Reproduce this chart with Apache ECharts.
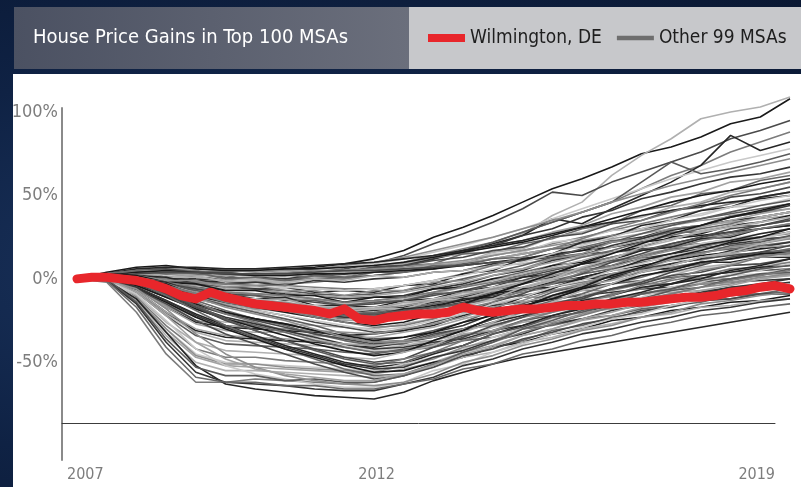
<!DOCTYPE html>
<html><head><meta charset="utf-8">
<script src="https://cdn.jsdelivr.net/npm/echarts@6/dist/echarts.min.js"></script>
<style>
html,body{margin:0;padding:0;width:801px;height:487px;overflow:hidden;}
body{background:radial-gradient(ellipse at 30% 55%,#1b3560 0%,#0f2244 55%,#0a1833 100%);}
#hdrL{position:absolute;left:14px;top:7px;width:395px;height:62px;background:linear-gradient(90deg,#4b5162,#6b6f7c);}
#hdrR{position:absolute;left:409px;top:7px;width:392px;height:62px;background:#c7c8cb;}
#panel{position:absolute;left:13px;top:74px;width:788px;height:413px;background:#fff;}
#chart{position:absolute;left:0;top:0;width:801px;height:487px;}
</style></head><body>
<div id="hdrL"></div><div id="hdrR"></div><div id="panel"></div><div id="chart"></div>
<script>
// ---------- data ----------
const halfYears = [2007,2007.5,2008,2008.5,2009,2009.5,2010,2010.5,2011,2011.5,2012,2012.5,2013,2013.5,2014,2014.5,2015,2015.5,2016,2016.5,2017,2017.5,2018,2018.5,2019];
const quarters = [2007,2007.25,2007.5,2007.75,2008,2008.25,2008.5,2008.75,2009,2009.25,2009.5,2009.75,2010,2010.25,2010.5,2010.75,2011,2011.25,2011.5,2011.75,2012,2012.25,2012.5,2012.75,2013,2013.25,2013.5,2013.75,2014,2014.25,2014.5,2014.75,2015,2015.25,2015.5,2015.75,2016,2016.25,2016.5,2016.75,2017,2017.25,2017.5,2017.75,2018,2018.25,2018.5,2018.75,2019];
const yTicks = [-50, 0, 50, 100];
const xTickYears = [2007, 2012, 2019];

const wilmington = [0,1,1,0,-1,-3,-6,-10,-12,-8,-11,-13,-15,-16,-17,-18,-19,-21,-18,-24,-25,-23,-22,-21,-21,-20,-17,-19,-20,-19,-18,-18,-17,-16,-16,-15,-15,-14,-14,-13,-12,-11,-11,-10,-8,-7,-5,-4,-6];

// other MSAs, half-yearly (2007.0 ... 2019.0)
const s1 = [0,3,5,5,4,4,5,6,7,9,12,17,25,31,38,46,54,60,67,75,79,85,93,97,108];
const s2 = [0,2,1,-2,-4,-3,-2,-2,0,3,8,10,14,17,19,27,38,46,62,74,84,96,100,103,109];
const s3 = [0,2,4,3,1,0,1,2,4,6,9,14,21,27,34,42,52,50,58,64,70,76,84,89,95];
const s4 = [0,3,5,6,5,3,2,3,4,5,7,10,14,18,22,28,34,40,46,54,62,68,76,82,88];
const s5 = [0,2,3,1,-1,-2,-2,-1,0,2,5,8,12,16,21,26,36,33,42,50,58,68,86,77,82];
const s6 = [0,4,6,7,6,5,5,5,6,7,9,12,16,20,25,30,36,42,48,54,60,65,70,74,78];
const s7 = [0,1,0,-2,-3,-3,-2,-1,1,3,6,9,13,17,22,28,34,40,46,58,70,63,66,70,75];
const s8 = [0,3,5,6,6,5,4,5,6,8,10,13,17,21,25,30,35,40,46,51,56,60,64,68,72];
const s9 = [0,2,3,2,0,-1,1,0,2,4,7,9,12,17,20,26,30,37,41,48,52,57,61,63,67];
const s10 = [0,3,4,5,3,2,3,3,5,5,8,9,13,15,20,23,28,32,39,43,49,52,58,60,64];
const s11 = [0,2,4,5,2,2,-1,2,1,4,4,8,9,15,16,21,24,30,33,41,44,51,53,59,62];
const s12 = [0,4,7,8,6,5,5,6,6,7,8,10,13,16,19,22,26,31,36,41,46,50,53,57,60];
const s13 = [0,2,3,1,2,-2,-1,-2,1,0,4,4,9,10,16,18,25,28,34,37,43,46,52,54,58];
const s14 = [0,3,5,6,4,4,2,3,5,4,7,8,11,13,17,19,25,27,33,35,41,43,49,51,55];
const s15 = [0,1,2,0,-2,-3,-4,-3,-2,0,2,4,7,10,14,17,21,25,29,33,37,41,45,49,52];
const s16 = [0,3,6,7,7,6,6,7,8,9,10,12,14,17,20,23,27,31,34,38,41,44,46,48,50];
const s17 = [0,2,4,2,3,0,2,1,4,2,5,5,9,10,15,16,22,24,29,30,36,38,43,44,48];
const s18 = [0,2,4,4,3,1,0,-1,0,1,2,4,6,9,12,15,18,22,26,30,33,36,39,42,45];
const s19 = [0,3,5,5,4,3,3,4,5,5,6,7,9,11,14,17,20,23,26,29,32,35,37,40,42];
const s20 = [0,1,2,1,-1,-3,-2,-4,-1,-2,0,1,4,5,9,11,15,17,22,25,30,32,35,37,40];
const s21 = [0,2,3,3,2,2,2,3,3,4,5,6,8,10,12,15,18,21,24,27,30,32,34,36,38];
const s22 = [0,3,5,3,4,0,1,-1,2,1,4,4,8,8,12,13,18,19,23,24,28,28,32,32,35];
const s23 = [0,2,4,5,4,3,2,2,3,3,4,5,6,8,10,12,14,17,19,22,24,26,28,30,32];
const s24 = [0,1,3,1,1,-1,0,-2,0,-1,2,1,4,5,8,9,12,13,16,17,20,21,24,25,28];
const s25 = [0,2,3,4,4,3,3,3,4,5,5,6,7,8,10,11,13,15,16,18,19,21,22,24,25];

const m1 = [0,2,1,-1,-2,-3,-4,-4,-5,-6,-6,-4,-1,3,8,13,18,24,30,35,40,45,50,54,58];
const m2 = [0,3,2,1,-3,-4,-6,-5,-8,-7,-8,-4,-3,3,5,12,15,22,25,32,35,41,43,49,52];
const m3 = [0,1,0,-2,-3,-4,-5,-5,-6,-7,-6,-4,-1,2,6,10,15,20,25,30,35,39,43,47,50];
const m4 = [0,2,1,-1,-3,-5,-6,-7,-9,-10,-9,-7,-4,0,4,8,13,18,22,27,32,36,40,44,47];
const m5 = [0,2,2,-1,-1,-5,-4,-7,-7,-10,-7,-7,-2,-1,4,6,12,15,22,24,30,32,38,40,45];
const m6 = [0,1,-1,-3,-5,-7,-6,-9,-10,-12,-11,-10,-6,-3,2,5,11,14,20,24,29,32,37,40,44];
const m7 = [0,2,1,-2,-4,-6,-7,-8,-10,-11,-10,-8,-5,-2,2,6,10,14,19,23,27,31,35,39,42];
const m8 = [0,2,0,-3,-6,-8,-9,-10,-12,-14,-13,-11,-8,-4,0,4,8,13,17,22,26,30,33,37,40];
const m9 = [0,3,2,-2,-3,-7,-7,-10,-10,-14,-11,-11,-6,-5,0,2,8,10,16,19,25,27,32,34,38];
const m10 = [0,1,-1,-4,-7,-9,-10,-11,-13,-15,-14,-12,-9,-5,-1,3,7,11,16,20,24,28,31,34,37];
const m11 = [0,2,1,-3,-6,-9,-10,-12,-14,-16,-15,-13,-10,-7,-3,1,5,9,13,17,21,25,28,32,35];
const m12 = [0,2,1,-2,-5,-8,-9,-10,-12,-14,-13,-11,-8,-5,-2,2,6,9,13,17,20,24,27,30,33];
const m13 = [0,3,0,-2,-8,-9,-12,-11,-16,-16,-17,-13,-12,-7,-5,1,3,9,11,17,19,24,25,30,32];
const m14 = [0,1,-1,-4,-8,-11,-12,-14,-16,-18,-17,-15,-12,-9,-5,-1,3,7,11,15,18,21,24,27,30];
const m15 = [0,2,0,-3,-7,-10,-10,-13,-13,-16,-14,-13,-9,-8,-3,-1,4,6,11,13,18,19,23,25,28];
const m16 = [0,2,1,-4,-8,-11,-13,-14,-17,-19,-18,-16,-13,-10,-6,-2,2,6,10,13,17,20,22,25,27];
const m17 = [0,1,-1,-5,-9,-12,-13,-15,-18,-20,-19,-17,-14,-11,-7,-3,1,5,8,12,15,18,21,23,25];
const m18 = [0,2,-1,-3,-9,-10,-13,-12,-17,-17,-18,-14,-13,-8,-7,-2,0,5,7,12,13,18,19,23,24];
const m19 = [0,3,1,-4,-9,-12,-14,-16,-19,-21,-20,-18,-15,-12,-8,-5,-1,3,6,10,13,16,18,20,22];
const m20 = [0,2,0,-5,-10,-13,-15,-17,-20,-22,-21,-19,-16,-13,-9,-6,-2,1,5,8,11,14,16,18,20];
const m21 = [0,1,-1,-5,-9,-12,-13,-16,-17,-20,-18,-18,-13,-12,-7,-6,-1,0,5,6,11,11,15,15,18];
const m22 = [0,2,0,-5,-10,-14,-16,-18,-21,-23,-22,-20,-17,-14,-10,-7,-3,0,3,6,9,12,14,16,17];
const m23 = [0,2,0,-6,-11,-15,-17,-19,-22,-24,-23,-21,-18,-15,-11,-8,-5,-2,1,4,7,10,12,14,15];
const m24 = [0,3,0,-3,-10,-12,-16,-16,-21,-21,-22,-18,-17,-12,-11,-6,-5,0,1,6,6,10,10,13,13];
const m25 = [0,1,-1,-6,-12,-16,-18,-20,-23,-25,-24,-22,-19,-16,-13,-10,-7,-4,-1,2,4,6,8,9,10];
const m26 = [0,2,0,-5,-10,-13,-15,-17,-19,-21,-21,-19,-17,-15,-12,-10,-7,-5,-3,-1,1,2,4,5,6];
const m27 = [0,2,-1,-5,-12,-14,-18,-18,-23,-23,-25,-21,-21,-17,-16,-11,-11,-7,-7,-3,-3,1,0,3,3];
const m28 = [0,1,-1,-5,-10,-14,-16,-18,-21,-23,-23,-22,-20,-18,-16,-14,-12,-10,-8,-6,-5,-3,-2,-1,0];
const m29 = [0,2,0,-6,-11,-15,-17,-19,-23,-25,-25,-24,-22,-20,-18,-16,-14,-12,-11,-9,-8,-7,-6,-5,-4];
const m30 = [0,2,1,-4,-9,-13,-15,-17,-20,-22,-22,-21,-20,-19,-18,-17,-15,-14,-13,-12,-11,-10,-10,-9,-9];

const d1 = [0,1,-2,-6,-10,-14,-17,-20,-23,-26,-28,-26,-21,-15,-9,-3,3,9,15,21,27,32,37,41,45];
const d2 = [0,2,-5,-15,-23,-26,-25,-27,-28,-29,-30,-27,-24,-17,-12,-5,0,7,12,19,23,29,32,37,40];
const d3 = [0,1,-3,-7,-12,-16,-19,-22,-26,-29,-32,-31,-26,-21,-14,-9,-2,3,10,15,21,25,30,32,36];
const d4 = [0,2,1,-4,-9,-14,-17,-19,-23,-26,-29,-28,-24,-18,-14,-7,-3,4,8,14,18,23,26,30,33];
const d5 = [0,1,-6,-17,-26,-29,-30,-31,-32,-34,-33,-31,-28,-22,-18,-11,-6,1,5,11,15,20,23,27,30];
const d6 = [0,2,-2,-7,-12,-16,-19,-22,-25,-28,-31,-29,-25,-21,-15,-11,-5,-1,5,9,14,17,22,24,28];
const d7 = [0,1,0,-5,-11,-16,-20,-24,-28,-33,-36,-35,-31,-26,-19,-15,-8,-4,2,6,12,15,20,22,26];
const d8 = [0,2,-6,-16,-25,-28,-29,-30,-31,-32,-33,-30,-27,-23,-17,-13,-7,-3,3,7,12,15,19,21,24];
const d9 = [0,1,-3,-9,-15,-20,-24,-27,-31,-35,-38,-37,-32,-28,-21,-17,-10,-6,0,4,9,12,17,19,22];
const d10 = [0,2,-6,-17,-27,-31,-32,-32,-34,-35,-35,-32,-29,-24,-20,-14,-10,-4,-1,5,8,13,15,19,20];
const d11 = [0,1,-1,-6,-13,-19,-24,-28,-33,-37,-40,-39,-34,-30,-24,-19,-13,-9,-3,1,6,9,13,15,18];
const d12 = [0,2,-3,-9,-15,-20,-24,-27,-31,-34,-37,-35,-32,-26,-22,-16,-12,-6,-3,2,5,10,12,15,16];
const d13 = [0,1,-8,-21,-32,-37,-38,-39,-40,-41,-42,-40,-37,-31,-27,-20,-16,-10,-6,-1,2,7,9,13,14];
const d14 = [0,2,-3,-9,-16,-21,-25,-29,-33,-36,-39,-38,-33,-30,-24,-20,-15,-11,-6,-3,2,4,8,9,12];
const d15 = [0,1,-1,-7,-14,-21,-26,-31,-36,-41,-44,-43,-39,-34,-29,-23,-18,-14,-9,-6,-1,2,6,7,10];
const d16 = [0,2,-7,-20,-31,-35,-36,-37,-38,-40,-41,-38,-35,-31,-26,-22,-18,-13,-10,-5,-3,2,4,7,8];
const d17 = [0,1,-4,-11,-18,-24,-28,-32,-36,-40,-43,-42,-38,-35,-29,-26,-20,-17,-12,-9,-5,-2,2,3,6];
const d18 = [0,2,-8,-22,-34,-39,-40,-41,-42,-44,-45,-42,-40,-34,-31,-25,-22,-17,-14,-9,-6,-2,0,3,4];
const d19 = [0,1,0,-5,-11,-17,-21,-25,-30,-35,-38,-37,-35,-30,-28,-23,-20,-16,-13,-9,-7,-3,-2,1,2];
const d20 = [0,2,-3,-10,-17,-23,-27,-31,-35,-39,-42,-41,-38,-36,-31,-28,-23,-20,-16,-14,-10,-8,-5,-4,-2];
const d21 = [0,1,-7,-20,-30,-34,-35,-36,-37,-39,-40,-38,-37,-33,-31,-26,-24,-20,-18,-14,-12,-9,-8,-5,-5];
const d22 = [0,2,-4,-11,-18,-24,-28,-32,-37,-41,-44,-43,-41,-37,-35,-30,-28,-24,-22,-18,-16,-13,-12,-9,-9];

const v1 = [0,0,-4,-11,-18,-24,-29,-34,-39,-43,-46,-44,-37,-31,-23,-17,-10,-5,2,7,13,17,22,25,30];
const v2 = [0,1,-10,-26,-38,-43,-44,-45,-46,-47,-48,-44,-40,-32,-26,-19,-14,-7,-3,4,8,13,16,21,25];
const v3 = [0,0,-2,-9,-17,-25,-31,-37,-42,-47,-50,-48,-41,-35,-28,-23,-16,-12,-6,-2,4,8,13,16,20];
const v4 = [0,-1,-11,-28,-42,-47,-47,-49,-50,-51,-52,-48,-44,-37,-32,-25,-20,-14,-10,-4,0,5,8,13,16];
const v5 = [0,0,-5,-13,-21,-28,-34,-40,-45,-50,-53,-51,-45,-40,-33,-28,-22,-18,-12,-8,-3,0,5,8,12];
const v6 = [0,1,-12,-30,-45,-50,-51,-52,-53,-54,-55,-51,-47,-42,-35,-30,-24,-20,-14,-11,-5,-2,3,5,9];
const v7 = [0,0,-1,-8,-16,-24,-31,-37,-43,-48,-51,-50,-44,-40,-33,-29,-23,-20,-15,-12,-7,-5,0,2,6];
const v8 = [0,-1,-12,-30,-46,-51,-51,-53,-54,-55,-56,-52,-48,-41,-37,-30,-26,-21,-17,-12,-9,-5,-3,1,3];
const v9 = [0,0,-5,-13,-22,-29,-35,-41,-46,-51,-54,-53,-47,-43,-37,-33,-27,-24,-19,-16,-11,-9,-5,-3,0];
const v10 = [0,0,-13,-32,-47,-52,-53,-54,-55,-56,-57,-54,-50,-44,-40,-34,-30,-25,-22,-17,-14,-10,-8,-4,-3];
const v11 = [0,1,-2,-10,-19,-28,-35,-42,-48,-54,-58,-57,-51,-47,-41,-37,-31,-28,-23,-20,-16,-14,-10,-9,-6];
const v12 = [0,0,-6,-14,-23,-30,-36,-42,-47,-52,-56,-55,-50,-47,-41,-38,-33,-30,-25,-23,-19,-17,-14,-13,-10];
const v13 = [0,-1,-14,-34,-50,-55,-55,-56,-57,-58,-59,-57,-53,-47,-44,-38,-35,-30,-27,-23,-21,-17,-16,-13,-12];
const v14 = [0,0,-6,-15,-25,-33,-39,-45,-51,-56,-60,-58,-53,-46,-42,-36,-32,-27,-24,-19,-17,-13,-12,-9,-8];

const x1 = [0,-2,-20,-45,-62,-62,-60,-61,-62,-63,-62,-58,-51,-44,-38,-32,-27,-22,-17,-13,-9,-5,-1,2,5];
const x2 = [0,-1,-12,-32,-52,-63,-66,-68,-70,-71,-72,-68,-61,-56,-51,-47,-44,-41,-38,-35,-32,-29,-26,-23,-20];
const x3 = [0,-1,-9,-25,-42,-52,-57,-60,-63,-65,-65,-62,-55,-51,-44,-39,-33,-29,-24,-21,-16,-13,-9,-7,-4];
const x4 = [0,0,-14,-36,-53,-58,-58,-61,-60,-62,-62,-58,-52,-44,-38,-30,-25,-19,-15,-9,-6,-1,2,6,8];
const x5 = [0,-1,-6,-18,-33,-45,-53,-58,-61,-63,-64,-62,-57,-50,-46,-40,-36,-31,-28,-23,-20,-15,-13,-10,-8];
const x6 = [0,-1,-15,-38,-56,-62,-63,-64,-66,-67,-67,-63,-59,-52,-48,-42,-38,-33,-30,-26,-23,-19,-17,-14,-12];
const x7 = [0,0,-8,-22,-38,-48,-54,-57,-59,-61,-61,-57,-52,-45,-41,-34,-30,-24,-20,-15,-12,-7,-4,0,2];
const x8 = [0,-1,-17,-41,-59,-62,-62,-64,-64,-66,-66,-63,-60,-54,-51,-45,-42,-37,-34,-29,-26,-22,-20,-17,-15];

const otherMSAs = [s1,s2,s3,s4,s5,s6,s7,s8,s9,s10,s11,s12,s13,s14,s15,s16,s17,s18,s19,s20,s21,s22,s23,s24,s25,
  m1,m2,m3,m4,m5,m6,m7,m8,m9,m10,m11,m12,m13,m14,m15,m16,m17,m18,m19,m20,m21,m22,m23,m24,m25,m26,m27,m28,m29,m30,
  d1,d2,d3,d4,d5,d6,d7,d8,d9,d10,d11,d12,d13,d14,d15,d16,d17,d18,d19,d20,d21,d22,
  v1,v2,v3,v4,v5,v6,v7,v8,v9,v10,v11,v12,v13,v14,
  x1,x2,x3,x4,x5,x6,x7,x8];

// ---------- style ----------
const F = "'Liberation Sans Narrow','DejaVu Sans Condensed','Arial Narrow',sans-serif";
const RED = '#e8262b';
const shades = ['#1a1a1a','#b0b0b0','#4a4a4a','#7c7c7c','#262626','#c8c8c8','#5a5a5a','#8e8e8e','#363636','#a2a2a2','#686868'];
const pxPerYear = 713 / 12;
const frameMin = 2007 - 15 / pxPerYear;
const frameMax = 2019 - 15 / pxPerYear;
const nearestYear = v => xTickYears.reduce((a, b) => Math.abs(b - v) < Math.abs(a - v) ? b : a);

const series = otherMSAs.map((vals, i) => ({
  type: 'line', name: 'Other 99 MSAs', xAxisIndex: 0, yAxisIndex: 0,
  data: vals.map((v, j) => [halfYears[j], v]),
  symbol: 'none', showSymbol: false, silent: true, z: 2,
  lineStyle: { width: 1.6, color: shades[i % shades.length] },
  itemStyle: { color: shades[i % shades.length] }
}));
series.push({
  type: 'line', name: 'Wilmington, DE', xAxisIndex: 0, yAxisIndex: 0,
  data: wilmington.map((v, j) => [quarters[j], v]),
  symbol: 'none', showSymbol: false, silent: true, z: 10,
  lineStyle: { width: 9, color: RED, cap: 'round', join: 'round' },
  itemStyle: { color: RED }
});

const chart = echarts.init(document.getElementById('chart'), null, { renderer: 'canvas' });
chart.setOption({
  animation: false,
  backgroundColor: 'transparent',
  title: {
    text: 'House Price Gains in Top 100 MSAs', left: 33, top: 25, padding: 0,
    textStyle: { fontFamily: F, fontSize: 20, fontWeight: 'normal', color: '#ffffff', lineHeight: 26 }
  },
  legend: {
    left: 428, top: 25, padding: 0, itemWidth: 37, itemHeight: 8, itemGap: 15, selectedMode: false,
    textStyle: { fontFamily: F, fontSize: 19, color: '#1e1e1e', lineHeight: 26 },
    data: [
      { name: 'Wilmington, DE', icon: 'rect', itemStyle: { color: RED } },
      { name: 'Other 99 MSAs', icon: 'path://M0,0H37V4.5H0Z', itemStyle: { color: '#6e6e6e' } }
    ]
  },
  grid: [
    { left: 77, right: 11, top: 62, height: 367, outerBoundsMode: 'none' },
    { left: 62, right: 26, top: 108, height: 352, outerBoundsMode: 'none' }
  ],
  xAxis: [
    { type: 'value', gridIndex: 0, min: 2007, max: 2019, show: false },
    { type: 'value', gridIndex: 1, min: frameMin, max: frameMax,
      axisLine: { show: true, onZero: true, lineStyle: { color: '#3c3c3c', width: 1 } },
      axisTick: { show: false }, splitLine: { show: false },
      axisLabel: { customValues: [frameMin, xTickYears[1], frameMax],
        formatter: v => String(nearestYear(v)),
        alignMinLabel: 'left', alignMaxLabel: 'right', margin: 7, padding: [0, 0, 0, 5],
        fontFamily: F, fontSize: 16, color: '#7d7d7d' } }
  ],
  yAxis: [
    { type: 'value', gridIndex: 0, min: -90, max: 130,
      axisLine: { show: false }, axisTick: { show: false }, splitLine: { show: false },
      axisLabel: { customValues: yTicks, formatter: v => v + '%', margin: 19,
        fontFamily: F, fontSize: 18, color: '#7d7d7d' } },
    { type: 'value', gridIndex: 1, min: -37, max: 315,
      axisLine: { show: true, onZero: false, lineStyle: { color: '#8a8a8a', width: 2 } },
      axisTick: { show: false }, splitLine: { show: false }, axisLabel: { show: false } }
  ],
  series: series
});
</script></body></html>
